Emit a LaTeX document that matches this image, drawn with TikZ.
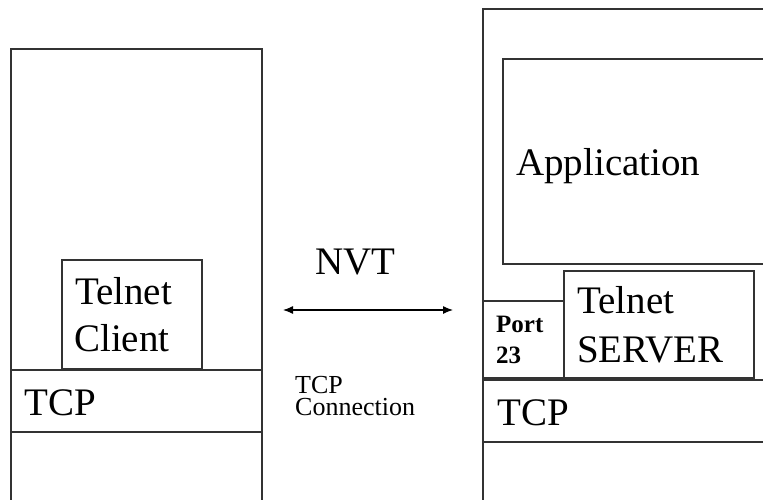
\documentclass[tikz,border=0pt]{standalone}
\usepackage{fontspec}
\setmainfont{Liberation Serif}
\usetikzlibrary{arrows.meta}
\begin{document}
\begin{tikzpicture}[x=1pt,y=-1pt,
  frame/.style={draw=black!80,line width=1.3pt,inner sep=0pt,outer sep=0pt,anchor=north west},
  big/.style={font=\fontsize{39}{47}\selectfont,inner sep=0pt,anchor=base west},
  small/.style={font=\fontsize{26}{22}\selectfont,inner sep=0pt,anchor=base west},
  port/.style={font=\bfseries\fontsize{25}{31}\selectfont,inner sep=0pt,anchor=base west},
  link/.style={line width=1.2pt,{Latex[length=10pt,width=8pt]}-{Latex[length=10pt,width=8pt]}}]
\useasboundingbox (0,0) rectangle (763,499);
\clip (0,0) rectangle (763,499);

% client host
\node[frame,minimum width=251pt,minimum height=480pt] (client) at (11,49) {};
\node[frame,minimum width=251pt,minimum height=62pt] (tcpL) at (11,370) {};
\node[frame,minimum width=140pt,minimum height=109pt] (tclient) at (62,260) {};
\node[big] (tcL1) at (75,304) {Telnet};
\node[big] (tcL2) at (74,351) {Client};
\node[big] (tcpLtxt) at (24,415) {TCP};

% server host
\node[frame,minimum width=300pt,minimum height=520pt] (server) at (483,9) {};
\node[frame,minimum width=300pt,minimum height=205pt] (app) at (503,59) {};
\node[big] (apptxt) at (516,175) {Application};
\node[frame,minimum width=81pt,minimum height=77pt] (port) at (483,301) {};
\node[port] (portA) at (496,332) {Port};
\node[port] (portB) at (496,363) {23};
\node[frame,minimum width=190pt,minimum height=107pt] (tserver) at (564,271) {};
\node[big] (tsL1) at (577,313) {Telnet};
\node[big] (tsL2) at (577,362) {SERVER};
\node[frame,minimum width=300pt,minimum height=62pt] (tcpR) at (483,380) {};
\node[big] (tcpRtxt) at (497,425) {TCP};

% connection between the hosts
\node[big] (nvt) at (315,274) {NVT};
\coordinate (linkL) at (283,310);
\coordinate (linkR) at (453,310);
\draw[link] (linkL) -- (linkR);
\node[small] (conn1) at (295,393) {TCP};
\node[small] (conn2) at (295,415) {Connection};
\end{tikzpicture}
\end{document}
